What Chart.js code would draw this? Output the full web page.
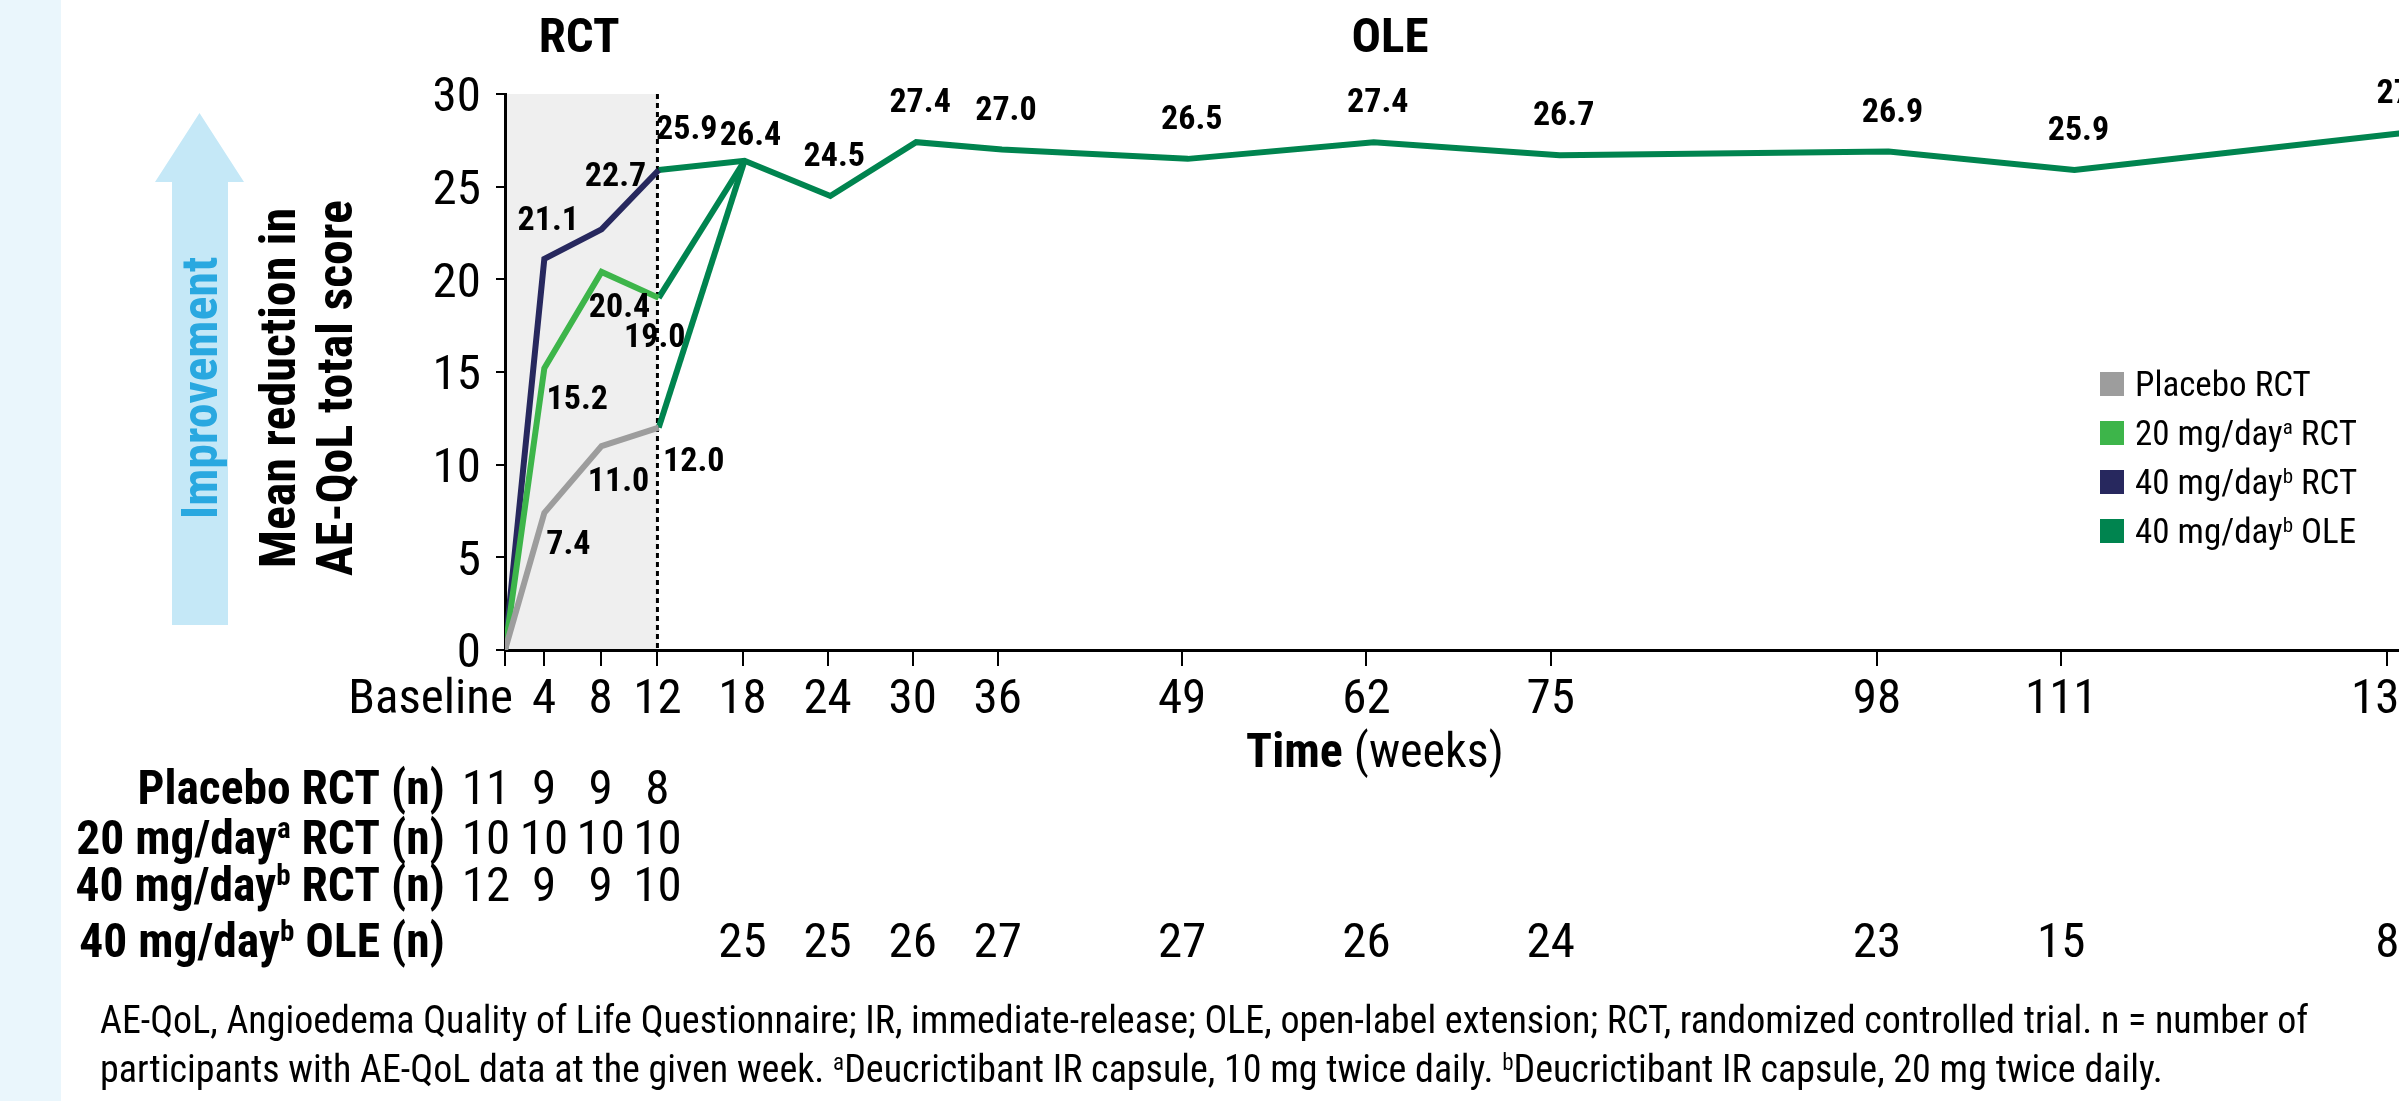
<!DOCTYPE html>
<html>
<head>
<meta charset="utf-8">
<script src="https://cdn.jsdelivr.net/npm/chart.js@4.4.1/dist/chart.umd.min.js"></script>
<style>
    html, body { margin: 0; padding: 0; background: #fff; overflow: hidden; }
    #wrap { position: relative; width: 2399px; height: 1101px; overflow: hidden; }
    #chart { position: absolute; left: 0; top: 0; }
</style>
</head>
<body>
<div id="wrap"><canvas id="chart" width="2480" height="1101"></canvas></div>
<script>
// time axis (weeks), 0 = baseline
const tickWeeks = [0, 4, 8, 12, 18, 24, 30, 36, 49, 62, 75, 98, 111, 134];
const rctWeeks = [0, 4, 8, 12];
const oleWeeks = [12, 18, 24, 30, 36, 49, 62, 75, 98, 111, 134];
const yTicks = [0, 5, 10, 15, 20, 25, 30];

// mean reduction in AE-QoL total score
const placeboRCT = [0, 7.4, 11.0, 12.0];
const mg20RCT = [0, 15.2, 20.4, 19.0];
const mg40RCT = [0, 21.1, 22.7, 25.9];
const mg40OLE = [25.9, 26.4, 24.5, 27.4, 27.0, 26.5, 27.4, 26.7, 26.9, 25.9, 27.9];

// participants (n)
const nPlacebo = [11, 9, 9, 8];
const n20 = [10, 10, 10, 10];
const n40 = [12, 9, 9, 10];
const nOLEWeeks = [18, 24, 30, 36, 49, 62, 75, 98, 111, 134];
const nOLE = [25, 25, 26, 27, 27, 26, 24, 23, 15, 8];

// series names, [text, flags] parts: b = bold, s = superscript
const seriesNames = [
    [["Placebo RCT"]],
    [["20 mg/day"], ["a", "s"], [" RCT"]],
    [["40 mg/day"], ["b", "s"], [" RCT"]],
    [["40 mg/day"], ["b", "s"], [" OLE"]]
];
const colors = ["#9d9d9d", "#3db54a", "#27285e", "#00844f"];

const footnote1 = [["AE-QoL, Angioedema Quality of Life Questionnaire; IR, immediate-release; OLE, open-label extension; RCT, randomized controlled trial. n = number of"]];
const footnote2 = [["participants with AE-QoL data at the given week. "], ["a", "s"], ["Deucrictibant IR capsule, 10 mg twice daily. "], ["b", "s"], ["Deucrictibant IR capsule, 20 mg twice daily."]];

// layout
const W = 2480, H = 1101;
const PLOT_LEFT = 505, PLOT_TOP = 94, PLOT_BOTTOM = 650;
const BASE_POS = 1.25;          // where "Baseline" sits on the week axis
const TICK_PX_PER_WEEK = 14.18;
const DATA_PX_PER_WEEK = 14.3;
const Y_BOX = 60, X_BOX = 40;

function pos(w) { return w === 0 ? BASE_POS : w; }

function fontAvailable(name) {
    const c = document.createElement("canvas").getContext("2d");
    const s = "Baseline 0123456789 mg/day";
    c.font = "40px monospace";
    const a = c.measureText(s).width;
    c.font = `40px "${name}", monospace`;
    return Math.abs(c.measureText(s).width - a) > 0.5;
}
const CONDENSED = fontAvailable("Roboto Condensed");
const FAMILY = CONDENSED ? '"Roboto Condensed", Roboto, sans-serif' : "Roboto, sans-serif";
const SX = CONDENSED ? 1 : 0.85;

// draws text parts; y is the centre of the capitals
function drawText(ctx, parts, x, y, o) {
    const size = o.size;
    const fontFor = p => {
        const f = p[1] || "";
        const weight = (o.bold || f.includes("b")) ? 700 : 400;
        const sz = f.includes("s") ? Math.round(size * 0.6) : size;
        return `${weight} ${sz}px ${FAMILY}`;
    };
    ctx.save();
    ctx.fillStyle = o.color || "#000";
    ctx.textBaseline = "alphabetic";
    ctx.textAlign = "left";
    let total = 0;
    const widths = parts.map(p => {
        ctx.font = fontFor(p);
        const w = ctx.measureText(p[0]).width;
        total += w;
        return w;
    });
    ctx.translate(x, y);
    if (o.rotate) ctx.rotate(o.rotate);
    ctx.scale(SX, 1);
    let cx = o.align === "right" ? -total : o.align === "left" ? 0 : -total / 2;
    const base = size * 0.355;
    parts.forEach((p, i) => {
        ctx.font = fontFor(p);
        const dy = (p[1] || "").includes("s") ? -size * 0.34 : 0;
        ctx.fillText(p[0], cx, base + dy);
        cx += widths[i];
    });
    ctx.restore();
}

function line(weeks, values) {
    return weeks.map((w, i) => ({ x: pos(w), y: values[i] }));
}

const above = [4, -42];
const datasets = [
    {
        label: "Placebo RCT", data: line(rctWeeks, placeboRCT), borderColor: colors[0],
        labelOffsets: [null, [24, 29], [17, 33], [35, 31]]
    },
    {
        label: "20 mg/day RCT", data: line(rctWeeks, mg20RCT), borderColor: colors[1],
        labelOffsets: [null, [33, 29], [18, 33], [-4, 37]]
    },
    {
        label: "40 mg/day RCT", data: line(rctWeeks, mg40RCT), borderColor: colors[2],
        labelOffsets: [null, [4, -41], [14, -55], [28, -43]]
    },
    {
        label: "40 mg/day OLE", data: line(oleWeeks, mg40OLE), borderColor: colors[3],
        labelOffsets: [null, [6, -28]].concat(oleWeeks.slice(2).map(() => above))
    },
    {
        label: "switch from placebo", data: [{ x: 12, y: placeboRCT[3] }, { x: 18, y: mg40OLE[1] }],
        borderColor: colors[3]
    },
    {
        label: "switch from 20 mg/day", data: [{ x: 12, y: mg20RCT[3] }, { x: 18, y: mg40OLE[1] }],
        borderColor: colors[3]
    }
];
datasets.forEach(d => {
    d.xAxisID = "xd";
    d.borderWidth = 6;
    d.pointRadius = 0;
    d.tension = 0;
    d.fill = false;
});

const decor = {
    id: "decor",
    beforeDraw(chart) {
        const ctx = chart.ctx;
        const x = chart.scales.x, y = chart.scales.y;
        ctx.save();
        ctx.fillStyle = "#eaf6fc";
        ctx.fillRect(0, 0, 61, H);

        // RCT period shading
        const x0 = x.getPixelForValue(BASE_POS), x1 = x.getPixelForValue(12);
        const yt = y.getPixelForValue(30), yb = y.getPixelForValue(0);
        ctx.fillStyle = "#efefef";
        ctx.fillRect(x0, yt, x1 - x0, yb - yt);

        // improvement arrow
        ctx.fillStyle = "#c5e8f7";
        ctx.beginPath();
        ctx.moveTo(199.5, 113);
        ctx.lineTo(244, 182);
        ctx.lineTo(228, 182);
        ctx.lineTo(228, 625);
        ctx.lineTo(172, 625);
        ctx.lineTo(172, 182);
        ctx.lineTo(155, 182);
        ctx.closePath();
        ctx.fill();
        ctx.restore();
    },
    beforeDatasetsDraw(chart) {
        const ctx = chart.ctx;
        const x = chart.scales.x, y = chart.scales.y;
        const px = x.getPixelForValue(12);
        ctx.save();
        ctx.strokeStyle = "#000";
        ctx.lineWidth = 3;
        ctx.setLineDash([5, 4]);
        ctx.beginPath();
        ctx.moveTo(px, y.getPixelForValue(30));
        ctx.lineTo(px, y.getPixelForValue(0));
        ctx.stroke();
        ctx.restore();
    },
    afterDatasetsDraw(chart) {
        const ctx = chart.ctx;
        chart.data.datasets.forEach((d, di) => {
            if (!d.labelOffsets) return;
            const meta = chart.getDatasetMeta(di);
            d.data.forEach((p, i) => {
                const off = d.labelOffsets[i];
                if (!off) return;
                const el = meta.data[i];
                drawText(ctx, [[p.y.toFixed(1)]], el.x + off[0], el.y + off[1], { size: 34, bold: true });
            });
        });
    },
    afterDraw(chart) {
        const ctx = chart.ctx;
        const x = chart.scales.x, y = chart.scales.y;

        // axis tick labels
        y.ticks.forEach(t => {
            drawText(ctx, [[String(t.value)]], PLOT_LEFT - 24, y.getPixelForValue(t.value), { size: 49, align: "right" });
        });
        tickWeeks.forEach(w => {
            const px = x.getPixelForValue(pos(w));
            if (w === 0) {
                drawText(ctx, [["Baseline"]], px + 8, 696, { size: 49, align: "right" });
            } else {
                drawText(ctx, [[String(w)]], px, 696, { size: 49 });
            }
        });

        // axis titles
        drawText(ctx, [["Time", "b"], [" (weeks)"]], 1375, 750, { size: 48 });
        drawText(ctx, [["Mean reduction in"]], 277, 388, { size: 50, bold: true, rotate: -Math.PI / 2 });
        drawText(ctx, [["AE-QoL total score"]], 334, 388, { size: 50, bold: true, rotate: -Math.PI / 2 });
        drawText(ctx, [["Improvement"]], 199, 388, { size: 50, bold: true, rotate: -Math.PI / 2, color: "#29a8e0" });

        // period headings
        drawText(ctx, [["RCT"]], (x.getPixelForValue(BASE_POS) + x.getPixelForValue(12)) / 2 - 2, 35, { size: 49, bold: true });
        drawText(ctx, [["OLE"]], 1390, 35, { size: 49, bold: true });

        // legend
        seriesNames.forEach((parts, i) => {
            const cy = 384 + i * 49;
            ctx.fillStyle = colors[i];
            ctx.fillRect(2100, cy - 12, 24, 24);
            drawText(ctx, parts, 2135, cy, { size: 35, align: "left" });
        });

        // participants table
        const rows = [
            { weeks: rctWeeks, n: nPlacebo, y: 787 },
            { weeks: rctWeeks, n: n20, y: 837 },
            { weeks: rctWeeks, n: n40, y: 884 },
            { weeks: nOLEWeeks, n: nOLE, y: 940 }
        ];
        rows.forEach((r, i) => {
            const parts = seriesNames[i].map(p => [p[0], "b" + (p[1] || "")]).concat([[" (n)", "b"]]);
            drawText(ctx, parts, 445, r.y, { size: 47.5, align: "right" });
            r.weeks.forEach((w, j) => {
                const px = x.getPixelForValue(pos(w)) - (w === 0 ? 19 : 0);
                drawText(ctx, [[String(r.n[j])]], px, r.y, { size: 49 });
            });
        });

        // footnote
        drawText(ctx, footnote1, 100, 1020, { size: 38, align: "left" });
        drawText(ctx, footnote2, 100, 1069, { size: 38, align: "left" });
    }
};

const plotWidth = W - PLOT_LEFT;

new Chart(document.getElementById("chart"), {
    type: "line",
    data: { datasets: datasets },
    plugins: [decor],
    options: {
        responsive: false,
        animation: false,
        devicePixelRatio: 1,
        events: [],
        layout: {
            padding: { left: PLOT_LEFT - Y_BOX, top: PLOT_TOP, right: 0, bottom: H - PLOT_BOTTOM - X_BOX }
        },
        plugins: {
            legend: { display: false },
            tooltip: { enabled: false }
        },
        scales: {
            x: {
                type: "linear",
                position: "bottom",
                min: BASE_POS,
                max: BASE_POS + plotWidth / TICK_PX_PER_WEEK,
                afterBuildTicks: s => { s.ticks = tickWeeks.map(w => ({ value: pos(w) })); },
                afterFit: s => { s.height = X_BOX; },
                ticks: { display: false },
                grid: { drawOnChartArea: false, drawTicks: true, tickLength: 16, color: "#000", lineWidth: 2 },
                border: { display: true, color: "#000", width: 3 }
            },
            xd: {
                type: "linear",
                position: "bottom",
                display: false,
                min: BASE_POS,
                max: BASE_POS + plotWidth / DATA_PX_PER_WEEK
            },
            y: {
                type: "linear",
                min: 0,
                max: 30,
                afterBuildTicks: s => { s.ticks = yTicks.map(v => ({ value: v })); },
                afterFit: s => { s.width = Y_BOX; },
                ticks: { display: false },
                grid: { drawOnChartArea: false, drawTicks: true, tickLength: 9, color: "#000", lineWidth: 2 },
                border: { display: true, color: "#000", width: 3 }
            }
        }
    }
});
</script>
</body>
</html>
